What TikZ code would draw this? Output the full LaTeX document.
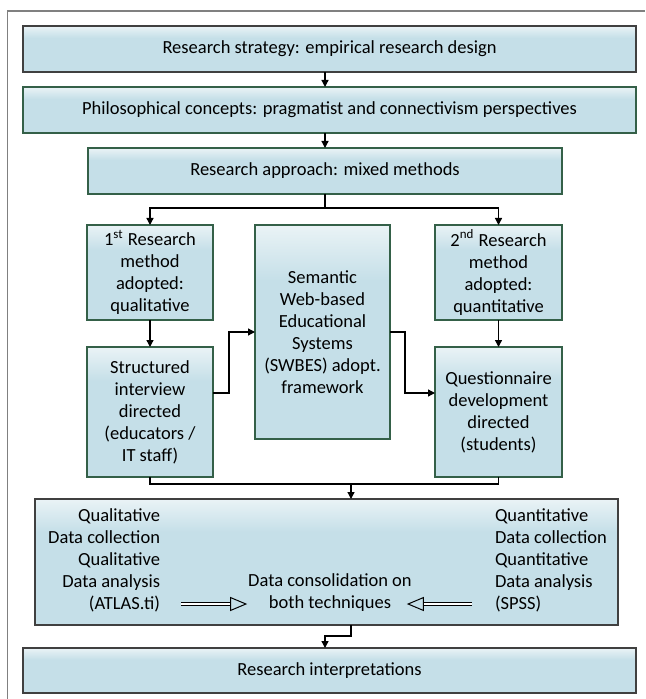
\documentclass[tikz,border=0pt]{standalone}
\usepackage{fontspec}
\setmainfont{Carlito}
\usetikzlibrary{arrows.meta,calc}
\definecolor{boxfill}{RGB}{197,223,232}
\definecolor{boxtop}{RGB}{234,243,246}
\definecolor{greenline}{RGB}{52,96,72}
\definecolor{darkline}{RGB}{64,64,64}
\definecolor{framegray}{RGB}{128,128,128}
\pgfdeclareverticalshading{boxshade}{100bp}{color(0bp)=(boxfill); color(62bp)=(boxfill); color(75bp)=(boxtop); color(100bp)=(boxtop)}
\begin{document}
\begin{tikzpicture}[x=0.5pt,y=-0.5pt,inner sep=0pt,outer sep=0pt,
font=\fontsize{9.25pt}{11pt}\selectfont,
stagebox/.style={draw=darkline,line width=0.9pt,shading=boxshade,align=center},
greenbox/.style={stagebox,draw=greenline},
link/.style={line width=0.65pt,-{Triangle[length=3.5pt,width=3.5pt]}},
hollow/.style={double=white,double distance=1pt,line width=0.5pt,-{Triangle[open,length=8.5pt,width=7pt]}}]
\useasboundingbox (0,0) rectangle (645,699);
\draw[framegray,line width=0.75pt] (7.5,699) |- (645,11);
% stages
\draw (329.5,49) node[stagebox,minimum width=306.5pt,minimum height=23pt] (strat) {Research strategy: empirical research design};
\draw (329.5,110) node[greenbox,minimum width=306.5pt,minimum height=23pt] (philo) {Philosophical concepts: pragmatist and connectivism perspectives};
\draw (325,171) node[greenbox,minimum width=237pt,minimum height=23pt] (approach) {Research approach: mixed methods};
\draw (150,272.5) node[greenbox,minimum width=63pt,minimum height=47.5pt] (meth1) {1\textsuperscript{st} Research\\method\\adopted:\\qualitative};
\draw (322.5,332) node[greenbox,minimum width=67.5pt,minimum height=107pt] (swbes) {Semantic\\Web-based\\Educational\\Systems\\(SWBES) adopt.\\framework};
\draw (498.5,272.5) node[greenbox,minimum width=63.5pt,minimum height=47.5pt] (meth2) {2\textsuperscript{nd} Research\\method\\adopted:\\quantitative};
\draw (150,412) node[greenbox,minimum width=63pt,minimum height=65pt] (interv) {Structured\\interview\\directed\\(educators /\\IT staff)};
\draw (498.5,412) node[greenbox,minimum width=63.5pt,minimum height=65pt] (quest) {Questionnaire\\development\\directed\\(students)};
\draw (326.5,562) node[stagebox,minimum width=291.5pt,minimum height=63pt] (data) {};
\draw (329.5,670.5) node[stagebox,minimum width=306.5pt,minimum height=22.5pt] (interp) {Research interpretations};
% data box contents
\draw (160,560) node[anchor=east,align=right] (qual) {Qualitative\\Data collection\\Qualitative\\Data analysis\\(ATLAS.ti)};
\draw (495,560) node[anchor=west,align=left] (quant) {Quantitative\\Data collection\\Quantitative\\Data analysis\\(SPSS)};
\draw (330,593) node[align=center] (consol) {Data consolidation on\\both techniques};
% connectors
\draw[link] (strat.south -| approach.north) -- (philo.north -| approach.north);
\draw[link] (philo.south -| approach.north) -- (approach.north);
\draw[link] (approach.south) -- ++(0,14) -| (meth1.north);
\draw[link] (approach.south) -- ++(0,14) -| (meth2.north);
\draw[link] (meth1.south) -- (interv.north);
\draw[link] (meth2.south) -- (quest.north);
\draw[link] ([yshift=9.5pt]interv.east) -- ++(16,0) |- (swbes.west);
\draw[link] (swbes.east) -- ++(15,0) |- ([yshift=9.5pt]quest.west);
\draw[line width=0.65pt] (interv.south) -- ++(0,7) -| (quest.south);
\coordinate (merge) at ([xshift=12.25pt,yshift=7.5pt]data.north);
\draw[link] (merge) -- (merge |- data.north);
\draw[link] ([xshift=12.25pt]data.south) -- ++(0,11) -| ([xshift=-2.25pt]interp.north);
\coordinate (hl) at ($(consol.west)+(0,11)$);
\draw[hollow] ($(hl -| qual.east)+(21,0)$) -- ($(hl)+(-1,0)$);
\draw[hollow] ($(hl -| quant.west)+(-23,0)$) -- ($(hl -| consol.east)+(-5,0)$);
\end{tikzpicture}
\end{document}
